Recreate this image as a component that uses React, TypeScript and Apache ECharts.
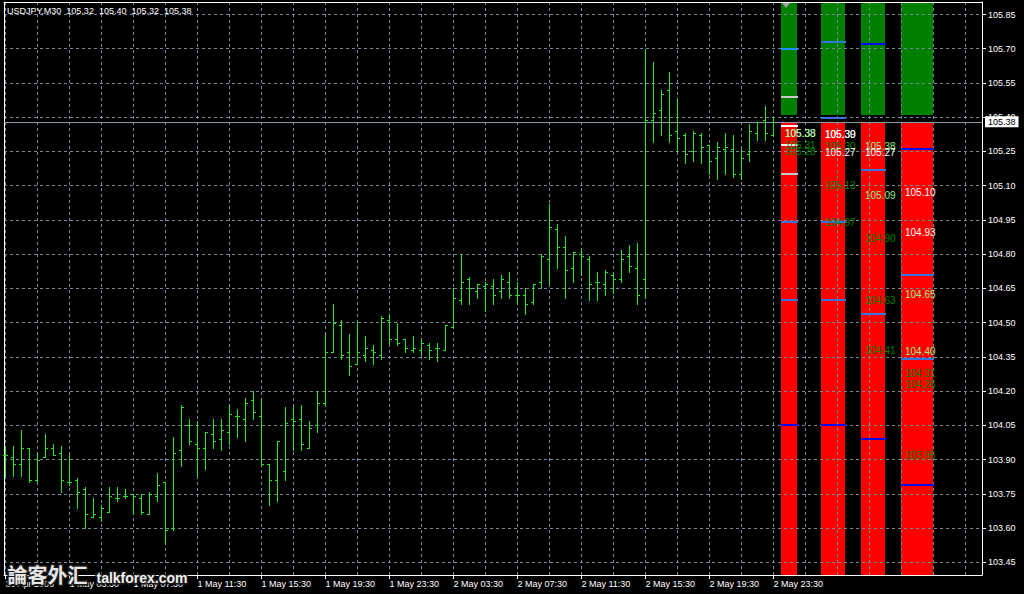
import React, { useEffect, useRef } from 'react';
import * as echarts from 'echarts';

// ---------------- data ----------------
const chartTitle = 'USDJPY,M30';
const lastBarText = ['105.32', '105.40', '105.32', '105.38'];

const opens = [
  103.92, 103.91, 103.88, 103.95, 103.81, 103.91, 103.95, 103.93, 103.80, 103.81,
  103.77, 103.65, 103.65, 103.67, 103.73, 103.74, 103.75, 103.73, 103.66, 103.74,
  103.80, 103.60, 103.94, 104.05, 103.97, 103.95, 104.01, 103.99, 104.02, 104.09,
  104.08, 104.16, 104.09, 103.88, 103.81, 103.85, 104.08, 104.08, 103.95, 104.05,
  104.15, 104.37, 104.49, 104.37, 104.32, 104.36, 104.38, 104.36, 104.51, 104.43,
  104.43, 104.38, 104.38, 104.40, 104.39, 104.38, 104.48, 104.60, 104.69, 104.64,
  104.66, 104.66, 104.64, 104.68, 104.62, 104.62, 104.59, 104.68, 104.78, 104.91,
  104.83, 104.74, 104.80, 104.78, 104.68, 104.67, 104.71, 104.69, 104.79, 104.74,
  104.69, 105.39, 105.43, 105.52, 105.34, 105.32, 105.25, 105.32, 105.28, 105.22,
  105.26, 105.26, 105.15, 105.24, 105.33, 105.39, 105.32,
];
const highs = [
  103.96, 103.96, 104.03, 103.95, 103.93, 104.01, 103.97, 103.96, 103.92, 103.82,
  103.78, 103.73, 103.70, 103.78, 103.78, 103.77, 103.75, 103.75, 103.76, 103.84,
  103.80, 104.00, 104.14, 104.08, 104.07, 104.02, 104.08, 104.08, 104.14, 104.12,
  104.17, 104.20, 104.17, 103.88, 103.98, 104.13, 104.13, 104.14, 104.07, 104.20,
  104.45, 104.58, 104.51, 104.45, 104.50, 104.44, 104.40, 104.53, 104.54, 104.50,
  104.43, 104.44, 104.43, 104.41, 104.41, 104.49, 104.65, 104.80, 104.70, 104.67,
  104.68, 104.69, 104.71, 104.72, 104.68, 104.65, 104.67, 104.80, 105.02, 104.93,
  104.88, 104.81, 104.82, 104.79, 104.72, 104.73, 104.72, 104.82, 104.84, 104.85,
  105.70, 105.64, 105.52, 105.60, 105.48, 105.33, 105.34, 105.33, 105.28, 105.29,
  105.33, 105.32, 105.26, 105.37, 105.38, 105.45, 105.40,
];
const lows = [
  103.83, 103.83, 103.83, 103.80, 103.80, 103.91, 103.92, 103.76, 103.79, 103.69,
  103.60, 103.65, 103.63, 103.67, 103.72, 103.73, 103.66, 103.66, 103.66, 103.72,
  103.53, 103.59, 103.87, 103.97, 103.83, 103.86, 103.95, 103.94, 103.97, 104.00,
  103.98, 104.08, 103.87, 103.70, 103.72, 103.81, 103.94, 103.94, 103.95, 104.02,
  104.14, 104.37, 104.34, 104.27, 104.32, 104.33, 104.32, 104.34, 104.41, 104.40,
  104.37, 104.37, 104.36, 104.34, 104.33, 104.38, 104.48, 104.58, 104.58, 104.61,
  104.55, 104.58, 104.61, 104.61, 104.58, 104.54, 104.58, 104.65, 104.67, 104.74,
  104.61, 104.68, 104.71, 104.60, 104.60, 104.62, 104.63, 104.68, 104.72, 104.58,
  104.61, 105.29, 105.32, 105.29, 105.25, 105.20, 105.21, 105.20, 105.15, 105.13,
  105.15, 105.14, 105.13, 105.21, 105.30, 105.30, 105.32,
];
const closes = [
  103.92, 103.88, 103.95, 103.81, 103.90, 103.95, 103.92, 103.81, 103.80, 103.76,
  103.66, 103.66, 103.69, 103.74, 103.73, 103.74, 103.74, 103.67, 103.75, 103.79,
  103.59, 103.93, 104.13, 103.98, 103.95, 104.02, 103.98, 104.03, 104.10, 104.09,
  104.15, 104.11, 103.88, 103.81, 103.98, 104.06, 104.07, 103.97, 104.04, 104.15,
  104.37, 104.50, 104.36, 104.31, 104.37, 104.39, 104.37, 104.52, 104.43, 104.41,
  104.39, 104.39, 104.41, 104.38, 104.39, 104.49, 104.61, 104.68, 104.65, 104.67,
  104.67, 104.62, 104.69, 104.62, 104.62, 104.58, 104.67, 104.79, 104.92, 104.83,
  104.73, 104.81, 104.79, 104.67, 104.68, 104.72, 104.69, 104.78, 104.75, 104.62,
  105.39, 105.42, 105.50, 105.32, 105.31, 105.24, 105.33, 105.27, 105.21, 105.27,
  105.27, 105.15, 105.22, 105.34, 105.38, 105.33, 105.38,
];

const xTickIndex = [0, 8, 16, 24, 32, 40, 48, 56, 64, 72, 80, 88, 96];
const xTickLabels = [
  '30 Apr 2008', '1 May 03:30', '1 May 07:30', '1 May 11:30', '1 May 15:30',
  '1 May 19:30', '1 May 23:30', '2 May 03:30', '2 May 07:30', '2 May 11:30',
  '2 May 15:30', '2 May 19:30', '2 May 23:30',
];
const xGridIndex = [
  0, 4, 8, 12, 16, 20, 24, 28, 32, 36, 40, 44, 48, 52, 56, 60, 64, 68, 72, 76,
  80, 84, 88, 92, 96, 100, 104, 108, 112, 116, 120,
];
const yTickValues = [
  103.45, 103.6, 103.75, 103.9, 104.05, 104.2, 104.35, 104.5, 104.65, 104.8,
  104.95, 105.1, 105.25, 105.4, 105.55, 105.7, 105.85,
];

const bidPrice = 105.38;
const askPrice = 105.41;

// indicator columns (bar-index ranges to the right of the last bar)
const columnStarts = [97, 102, 107, 112];
const columnEnds = [99, 105, 110, 116];

const levelColumn = [0, 0, 0, 0, 0, 0, 0, 0, 1, 1, 1, 1, 1, 2, 2, 2, 2, 3, 3, 3, 3];
const levelPrice = [
  105.70, 105.49, 105.36, 105.28, 105.15, 104.94, 104.60, 104.05,
  105.73, 105.395, 104.94, 104.60, 104.05,
  105.72, 105.17, 104.54, 103.99,
  105.26, 104.71, 104.34, 103.79,
];
const levelKind = [
  'dodger', 'silver', 'white', 'white', 'silver', 'royal', 'royal', 'blue',
  'royal', 'royal', 'royal', 'royal', 'blue',
  'blue', 'royal', 'royal', 'blue',
  'blue', 'royal', 'royal', 'blue',
];

const labelColumn = [0, 0, 0, 0, 1, 1, 1, 1, 1, 1, 2, 2, 2, 2, 2, 2, 3, 3, 3, 3, 3, 3, 3];
const labelTexts = [
  '105.38', '105.33', '105.31', '105.28',
  '105.39', '105.30', '105.30', '105.27', '105.13', '104.97',
  '105.38', '105.27', '105.09', '104.90', '104.63', '104.41',
  '105.10', '104.93', '104.65', '104.40', '104.31', '104.26', '103.95',
];
const labelPosition = [
  105.330, 105.330, 105.275, 105.249,
  105.325, 105.325, 105.271, 105.245, 105.103, 104.938,
  105.271, 105.245, 105.055, 104.868, 104.599, 104.377,
  105.069, 104.894, 104.622, 104.374, 104.278, 104.230, 103.917,
];
const labelKind = [
  'white', 'light', 'green', 'green',
  'white', 'white', 'green', 'white', 'green', 'green',
  'light', 'white', 'light', 'green', 'green', 'green',
  'white', 'white', 'light', 'light', 'green', 'green', 'green',
];

// ---------------- styles ----------------
const FONT = '"Liberation Sans", Arial, sans-serif';
const X_MIN = -0.1875;
const X_MAX = 122.0625;
const Y_MIN = 103.3944;
const Y_MAX = 105.9048;
const BAR_COLOR = '#22e822';
const GRID_COLOR = '#778899';
const LEVEL_COLORS: Record<string, string> = {
  dodger: '#1e90ff',
  royal: '#3874e0',
  blue: '#0a0aee',
  silver: '#c8c8c8',
  white: '#ffffff',
};
const LABEL_COLORS: Record<string, string> = {
  white: '#ffffff',
  light: '#90ee90',
  green: '#008000',
};

function buildOption(): any {
  const ohlcData = opens.map((o, i) => [i, o, highs[i], lows[i], closes[i]]);
  const zoneData: number[][] = [];
  columnStarts.forEach((s, c) => {
    zoneData.push([s, columnEnds[c], Y_MAX, askPrice, 0]);
    zoneData.push([s, columnEnds[c], bidPrice, Y_MIN, 1]);
  });
  const levelData = levelPrice.map((p, k) => [columnStarts[levelColumn[k]], columnEnds[levelColumn[k]], p]);
  const labelData = labelPosition.map((p, k) => [columnStarts[labelColumn[k]], p]);

  return {
    animation: false,
    backgroundColor: '#000000',
    title: {
      text: `${chartTitle}  ${lastBarText.join('  ')}`,
      left: 7,
      top: 6,
      padding: 0,
      textStyle: { color: '#ffffff', fontSize: 9, fontWeight: 'normal', fontFamily: FONT },
    },
    grid: { left: 4, right: 42, top: 2, bottom: 19, outerBoundsMode: 'none', containLabel: false },
    xAxis: [
      {
        type: 'value',
        min: X_MIN,
        max: X_MAX,
        position: 'bottom',
        z: 2,
        axisLine: { show: true, onZero: false, lineStyle: { color: '#ffffff', width: 1 } },
        axisTick: { show: true, customValues: xTickIndex, length: 4, lineStyle: { color: '#ffffff' } },
        axisLabel: {
          show: true,
          customValues: xTickIndex,
          color: '#ffffff',
          fontSize: 9,
          fontFamily: FONT,
          align: 'left',
          margin: 4,
          formatter: (v: number) => {
            const k = xTickIndex.indexOf(Math.round(v));
            return k >= 0 ? xTickLabels[k] : '';
          },
        },
        splitLine: { show: false },
      },
      {
        type: 'value',
        min: X_MIN,
        max: X_MAX,
        position: 'top',
        z: 2,
        axisLine: { show: true, onZero: false, lineStyle: { color: '#ffffff', width: 1 } },
        axisTick: { show: false, customValues: xGridIndex },
        axisLabel: { show: false },
        splitLine: { show: true, lineStyle: { color: GRID_COLOR, width: 1, type: [3, 3] } },
      },
    ],
    yAxis: [
      {
        type: 'value',
        min: Y_MIN,
        max: Y_MAX,
        position: 'right',
        z: 2,
        axisLine: { show: true, onZero: false, lineStyle: { color: '#ffffff', width: 1 } },
        axisTick: { show: true, customValues: yTickValues, length: 4, lineStyle: { color: '#ffffff' } },
        axisLabel: {
          show: true,
          customValues: yTickValues,
          color: '#ffffff',
          fontSize: 9,
          fontFamily: FONT,
          margin: 6,
          formatter: (v: number) => v.toFixed(2),
        },
        splitLine: { show: true, lineStyle: { color: GRID_COLOR, width: 1, type: [3, 3] } },
      },
      {
        type: 'value',
        min: Y_MIN,
        max: Y_MAX,
        position: 'left',
        z: 2,
        axisLine: { show: true, onZero: false, lineStyle: { color: '#ffffff', width: 1 } },
        axisTick: { show: false },
        axisLabel: { show: false },
        splitLine: { show: false },
      },
    ],
    series: [
      {
        type: 'custom',
        name: 'zones',
        z: 1,
        xAxisIndex: 0,
        yAxisIndex: 0,
        silent: true,
        data: zoneData,
        encode: { x: [0, 1], y: [2, 3] },
        renderItem: (params: any, api: any) => {
          const a = api.coord([api.value(0), api.value(2)]);
          const b = api.coord([api.value(1), api.value(3)]);
          const x0 = Math.floor(a[0]);
          const x1 = Math.floor(b[0]);
          const y0 = Math.round(a[1]) + (api.value(4) === 0 ? 1 : 0);
          const y1 = Math.round(b[1]);
          const children: any[] = [
            {
              type: 'rect',
              shape: { x: x0, y: y0, width: x1 - x0, height: y1 - y0 },
              style: { fill: api.value(4) === 0 ? '#008000' : '#ff0000' },
            },
          ];
          if (params.dataIndex === 0) {
            children.push({
              type: 'polygon',
              shape: { points: [[x0 + 1, y0], [x0 + 9, y0], [x0 + 5, y0 + 5]] },
              style: { fill: '#a0a0a0' },
            });
          }
          return { type: 'group', children };
        },
      },
      {
        type: 'custom',
        name: 'levels',
        z: 3,
        xAxisIndex: 0,
        yAxisIndex: 0,
        silent: true,
        data: levelData,
        encode: { x: [0, 1], y: 2 },
        renderItem: (params: any, api: any) => {
          const a = api.coord([api.value(0), api.value(2)]);
          const b = api.coord([api.value(1), api.value(2)]);
          const x0 = Math.floor(a[0]);
          const x1 = Math.floor(b[0]) + 1;
          const y = Math.round(a[1]) - 1;
          return {
            type: 'rect',
            shape: { x: x0, y, width: x1 - x0, height: 2 },
            style: { fill: LEVEL_COLORS[levelKind[params.dataIndex]] },
          };
        },
      },
      {
        type: 'custom',
        name: 'ohlc',
        z: 5,
        xAxisIndex: 0,
        yAxisIndex: 0,
        silent: true,
        data: ohlcData,
        encode: { x: 0, y: [1, 2, 3, 4] },
        renderItem: (params: any, api: any) => {
          const i = api.value(0);
          const o = api.coord([i, api.value(1)]);
          const h = api.coord([i, api.value(2)]);
          const l = api.coord([i, api.value(3)]);
          const c = api.coord([i, api.value(4)]);
          const fx = Math.floor(o[0]);
          const cx = fx + 0.5;
          const yo = Math.round(o[1]) + 0.5;
          const yc = Math.round(c[1]) + 0.5;
          const yh = Math.round(h[1]);
          const yl = Math.round(l[1]) + 1;
          const st = { stroke: BAR_COLOR, lineWidth: 1 };
          return {
            type: 'group',
            children: [
              { type: 'line', shape: { x1: cx, y1: yh, x2: cx, y2: yl }, style: st },
              { type: 'line', shape: { x1: fx - 2, y1: yo, x2: fx + 1, y2: yo }, style: st },
              { type: 'line', shape: { x1: fx, y1: yc, x2: fx + 3, y2: yc }, style: st },
            ],
          };
        },
      },
      {
        type: 'custom',
        name: 'levelLabels',
        z: 4,
        xAxisIndex: 0,
        yAxisIndex: 0,
        silent: true,
        data: labelData,
        encode: { x: 0, y: 1 },
        renderItem: (params: any, api: any) => {
          const p = api.coord([api.value(0), api.value(1)]);
          return {
            type: 'text',
            x: Math.floor(p[0]) + 4,
            y: p[1],
            style: {
              text: labelTexts[params.dataIndex],
              fill: LABEL_COLORS[labelKind[params.dataIndex]],
              font: `10px ${FONT}`,
              align: 'left',
              verticalAlign: 'middle',
            },
          };
        },
      },
      {
        type: 'line',
        name: 'bid',
        z: 6,
        xAxisIndex: 0,
        yAxisIndex: 0,
        data: [],
        silent: true,
        markLine: {
          silent: true,
          symbol: ['none', 'none'],
          animation: false,
          lineStyle: { color: '#8899aa', type: 'solid', width: 1 },
          label: {
            show: true,
            position: 'end',
            distance: 3,
            formatter: () => bidPrice.toFixed(2),
            color: '#000000',
            backgroundColor: '#ffffff',
            fontSize: 9,
            fontFamily: FONT,
            lineHeight: 9,
            padding: [1, 3, 1, 3],
          },
          data: [{ yAxis: bidPrice }],
        },
      },
    ],
    graphic: [
      {
        type: 'text',
        left: 6,
        top: 563,
        z: 100,
        style: {
          text: '論客外汇',
          font: 'bold 20px "Noto Sans CJK SC", sans-serif',
          fill: '#e6e6e6',
          stroke: '#1a1a1a',
          lineWidth: 3,
        },
      },
      {
        type: 'text',
        left: 95,
        top: 569,
        z: 100,
        style: {
          text: 'talkforex.com',
          font: `bold 14px ${FONT}`,
          fill: '#f2f2f2',
          stroke: '#1a1a1a',
          lineWidth: 3,
        },
      },
    ],
  };
}

export default function App() {
  const ref = useRef<HTMLDivElement>(null);
  useEffect(() => {
    if (!ref.current) return;
    const chart = echarts.init(ref.current, null, { renderer: 'svg' });
    chart.setOption(buildOption());
    return () => {
      chart.dispose();
    };
  }, []);
  return (
    <div
      ref={ref}
      style={{ position: 'absolute', left: 0, top: 0, width: 1024, height: 594, background: '#000' }}
    />
  );
}
